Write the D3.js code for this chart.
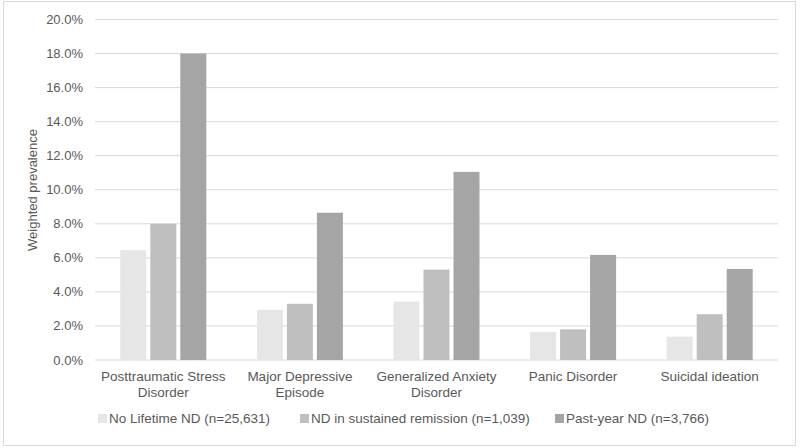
<!DOCTYPE html>
<html>
<head>
<meta charset="utf-8">
<script src="https://cdn.jsdelivr.net/npm/d3@7"></script>
<style>
  body { margin: 0; background: #fff; }
  svg { font-family: "Liberation Sans", Arial, sans-serif; }
</style>
</head>
<body>
<svg></svg>
<script>
const categories = [
  ["Posttraumatic Stress", "Disorder"],
  ["Major Depressive", "Episode"],
  ["Generalized Anxiety", "Disorder"],
  ["Panic Disorder"],
  ["Suicidal ideation"]
];
const seriesNames = [
  "No Lifetime ND (n=25,631)",
  "ND in sustained remission (n=1,039)",
  "Past-year ND (n=3,766)"
];
const noLifetime = [6.45, 2.95, 3.43, 1.65, 1.37];
const remission = [8.0, 3.3, 5.31, 1.8, 2.69];
const pastYear = [18.0, 8.65, 11.05, 6.17, 5.35];
const yTicks = [0, 2, 4, 6, 8, 10, 12, 14, 16, 18, 20];
const colors = ["#e6e6e6", "#bfbfbf", "#a5a5a5"];

const series = [noLifetime, remission, pastYear];

const svg = d3.select("svg").attr("width", 800).attr("height", 448);
const textColor = "#595959";

svg.append("rect")
  .attr("x", 3.5).attr("y", 1.5)
  .attr("width", 792).attr("height", 444)
  .attr("fill", "#fff")
  .attr("stroke", "#d9d9d9");

const plotLeft = 95, plotRight = 778, plotTop = 19.5, plotBottom = 360;

const x = d3.scaleBand()
  .domain(d3.range(categories.length))
  .range([plotLeft, plotRight]);

const y = d3.scaleLinear().domain([0, 20]).range([plotBottom, plotTop]);

const barW = 26, barGap = 4;
const groupW = barW * 3 + barGap * 2;

// gridlines
svg.append("g")
  .selectAll("line")
  .data(yTicks)
  .join("line")
  .attr("x1", plotLeft).attr("x2", plotRight)
  .attr("y1", d => y(d)).attr("y2", d => y(d))
  .attr("stroke", "#d9d9d9")
  .attr("stroke-width", 1);

// y labels
svg.append("g")
  .selectAll("text")
  .data(yTicks)
  .join("text")
  .attr("x", 83)
  .attr("y", d => y(d) + 4.5)
  .attr("text-anchor", "end")
  .attr("font-size", 13)
  .attr("fill", textColor)
  .text(d => d.toFixed(1) + "%");

// bars
series.forEach((vals, s) => {
  svg.append("g")
    .selectAll("rect")
    .data(vals)
    .join("rect")
    .attr("x", (d, i) => x(i) + x.bandwidth() / 2 - groupW / 2 + s * (barW + barGap))
    .attr("y", d => y(d))
    .attr("width", barW)
    .attr("height", d => y(0) - y(d))
    .attr("fill", colors[s]);
});

// category labels
const cat = svg.append("g")
  .selectAll("text")
  .data(categories)
  .join("text")
  .attr("x", (d, i) => x(i) + x.bandwidth() / 2)
  .attr("y", 381)
  .attr("text-anchor", "middle")
  .attr("font-size", 13.5)
  .attr("fill", textColor);
cat.selectAll("tspan")
  .data(d => d)
  .join("tspan")
  .attr("x", function () { return d3.select(this.parentNode).attr("x"); })
  .attr("dy", (d, i) => i === 0 ? 0 : 15.5)
  .text(d => d);

// y axis title
svg.append("text")
  .attr("transform", "translate(37,190) rotate(-90)")
  .attr("text-anchor", "middle")
  .attr("font-size", 13)
  .attr("fill", textColor)
  .text("Weighted prevalence");

// legend
const legendX = [98, 300, 555];
const lg = svg.append("g")
  .selectAll("g")
  .data(seriesNames)
  .join("g")
  .attr("transform", (d, i) => `translate(${legendX[i]},422)`);
lg.append("rect")
  .attr("x", 0).attr("y", -8)
  .attr("width", 9).attr("height", 9)
  .attr("fill", (d, i) => colors[i]);
lg.append("text")
  .attr("x", 11).attr("y", 1)
  .attr("font-size", 13.5)
  .attr("fill", textColor)
  .text(d => d);
</script>
</body>
</html>
